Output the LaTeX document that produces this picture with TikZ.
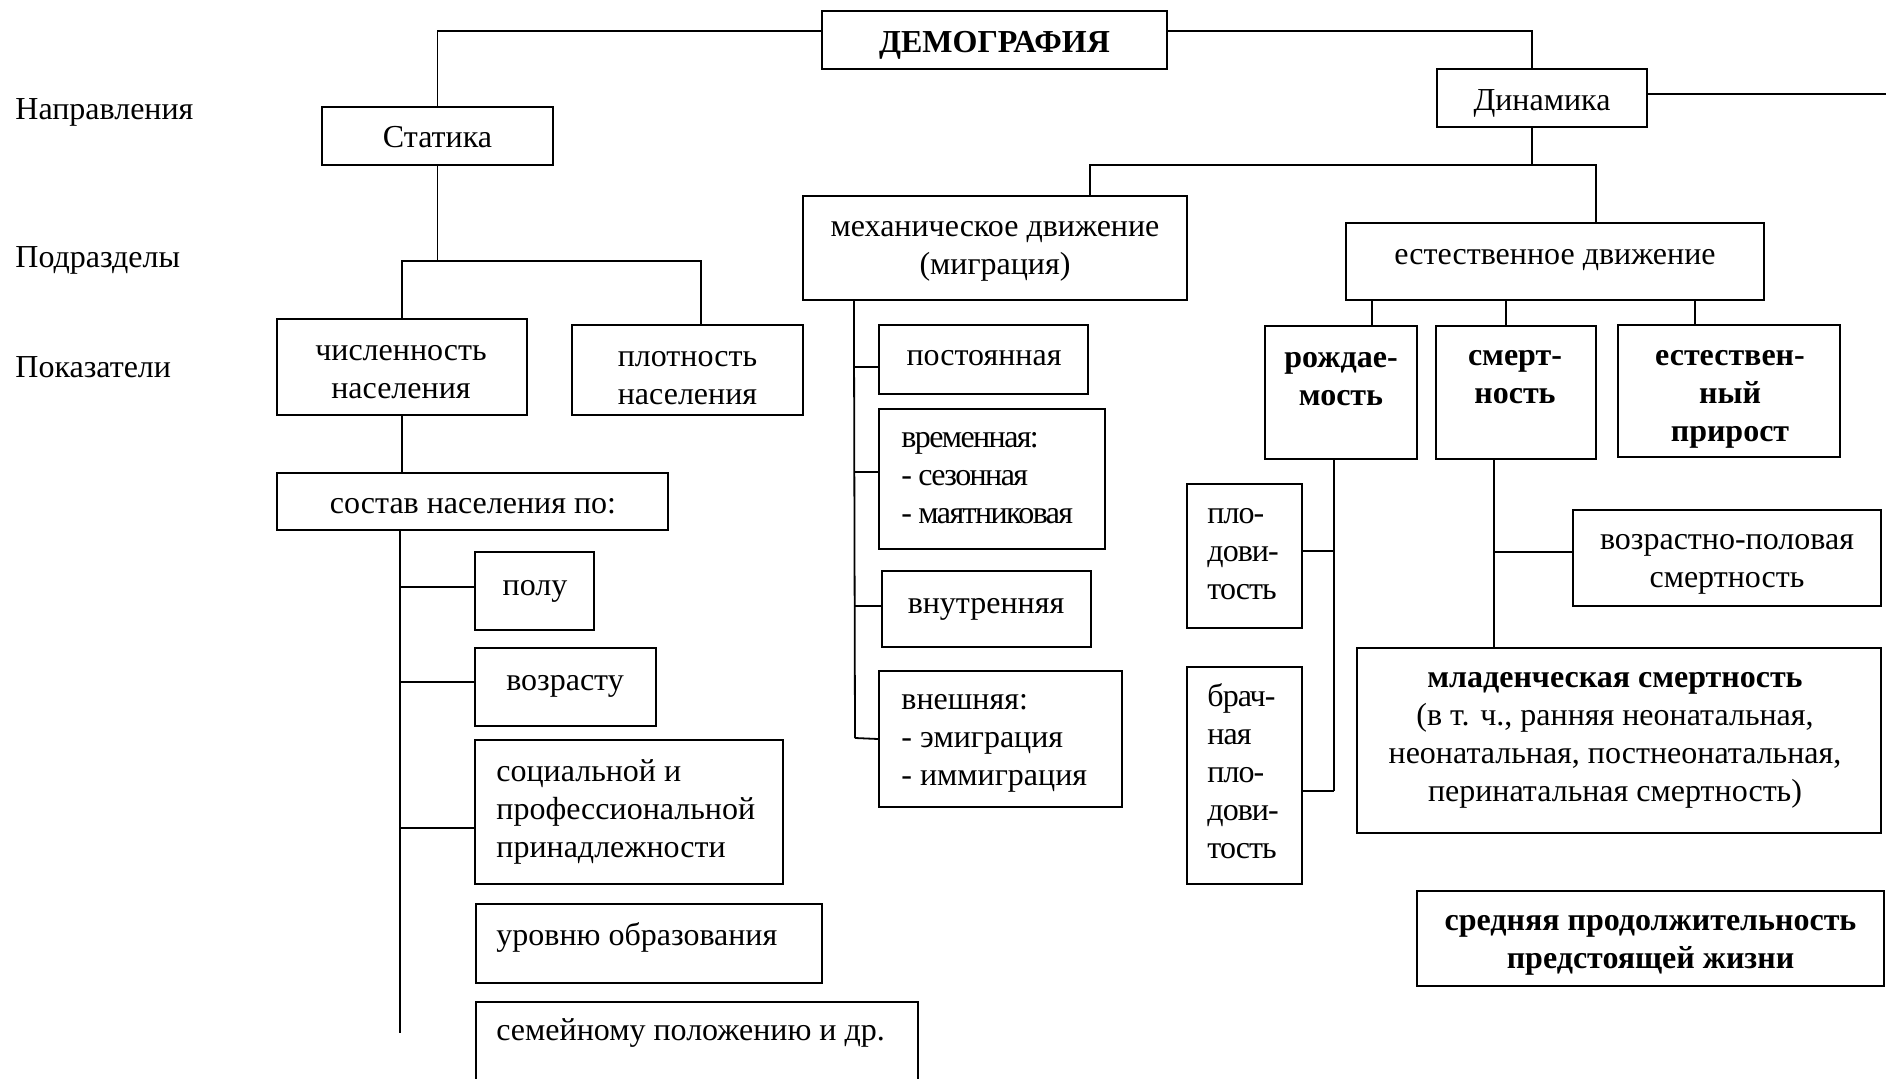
\documentclass[tikz,border=0pt]{standalone}
\usepackage{fontspec}
\setmainfont{Liberation Serif}
\begin{document}
\begin{tikzpicture}[x=0.5pt,y=-0.5pt,
  box/.style 2 args={draw, line width=1.1pt, inner sep=0pt, minimum width=#1*0.5pt, minimum height=#2*0.5pt},
  txt/.style={inner sep=0pt, align=center, font=\fontsize{16}{19}\selectfont},
  ltxt/.style={inner sep=0pt, anchor=west, align=left, font=\fontsize{16}{19}\selectfont},
  btxt/.style={inner sep=0pt, align=center, font=\fontsize{16}{19}\selectfont\bfseries},
  conn/.style={line width=0.9pt}]
\useasboundingbox (0,0) rectangle (1886,1079);
\fill[white] (0,0) rectangle (1886,1079);
\begin{scope}
\clip (0,0) rectangle (1886,1079);
% level labels
\node[ltxt] (lab1) at (15,112) {Направления};
\node[ltxt] (lab2) at (15,260) {Подразделы};
\node[ltxt] (lab3) at (15,367) {Показатели};

% top
\node[box={345}{58}] (demo) at (994.5,40) {};
\node[btxt] (demo-t) at (994.5,45) {ДЕМОГРАФИЯ};
\node[box={231}{58}] (statika) at (437.5,136) {};
\node[txt] (statika-t) at (437.5,137) {Статика};
\node[box={210}{58}] (dinamika) at (1542,98) {};
\node[txt] (dinamika-t) at (1542,103) {Динамика};

% subdivisions
\node[box={384}{104}] (mech) at (995,248) {};
\node[txt] (mech-t) at (995,251) {механическое движение\\(миграция)};
\node[box={418}{77}] (estestv) at (1555,261.5) {};
\node[txt] (estestv-t) at (1555,260) {естественное движение};

% statics
\node[box={250}{96}] (chisl) at (402,367) {};
\node[txt] (chisl-t) at (401,372) {численность\\населения};
\node[box={231}{90}] (plotn) at (687.5,370) {};
\node[txt] (plotn-t) at (687.5,378) {плотность\\населения};
\node[box={391}{57}] (sostav) at (472.5,501.5) {};
\node[txt] (sostav-t) at (473,506.5) {состав населения по:};
\node[box={119}{78}] (polu) at (534.5,591) {};
\node[txt] (polu-t) at (535,591) {полу};
\node[box={181}{78}] (vozrastu) at (565.5,687) {};
\node[txt] (vozrastu-t) at (565,686) {возрасту};
\node[box={308}{144}] (social) at (629,812) {};
\node[ltxt] (social-t) at (496,812) {социальной и\\профессиональной\\принадлежности};
\node[box={346}{79}] (uroven) at (649,943.5) {};
\node[ltxt] (uroven-t) at (496,937) {уровню образования};
\node[box={442}{90}] (semein) at (697,1047) {};
\node[ltxt] (semein-t) at (496,1033) {семейному положению и др.};

% migration
\node[box={209}{69}] (postoyan) at (983.5,359.5) {};
\node[txt] (postoyan-t) at (984,358.5) {постоянная};
\node[box={226}{140}] (vremen) at (992,479) {};
\node[ltxt, font=\fontsize{16}{19}\selectfont\addfontfeature{LetterSpace=-5}] (vremen-t) at (901,478) {временная:\\- сезонная\\- маятниковая};
\node[box={209}{76}] (vnutren) at (986.5,609) {};
\node[txt] (vnutren-t) at (986,609) {внутренняя};
\node[box={243}{136}] (vnesh) at (1000.5,739) {};
\node[ltxt] (vnesh-t) at (901,743) {внешняя:\\- эмиграция\\- иммиграция};

% natural movement
\node[box={152}{133}] (rozhd) at (1341,392.5) {};
\node[btxt] (rozhd-t) at (1341,379.5) {рождае-\\мость};
\node[box={160}{133}] (smert) at (1516,392.5) {};
\node[btxt] (smert-t) at (1515,377.5) {смерт-\\ность};
\node[box={222}{132}] (prirost) at (1729,391) {};
\node[btxt] (prirost-t) at (1730,399) {естествен-\\ный\\прирост};
\node[box={115}{144}] (plodov) at (1244.5,556) {};
\node[ltxt, font=\fontsize{16}{19}\selectfont\addfontfeature{LetterSpace=-3}] (plodov-t) at (1207,554.5) {пло-\\дови-\\тость};
\node[box={115}{217}] (brach) at (1244.5,775.5) {};
\node[ltxt, font=\fontsize{16}{19}\selectfont\addfontfeature{LetterSpace=-3}] (brach-t) at (1207,771) {брач-\\ная\\пло-\\дови-\\тость};
\node[box={308}{96}] (vozrpol) at (1727,558) {};
\node[txt] (vozrpol-t) at (1727,564) {возрастно-половая\\смертность};
\node[box={524}{185}] (mladen) at (1619,740.5) {};
\node[txt] (mladen-t) at (1615,740) {\textbf{младенческая смертность}\\(в т. ч., ранняя неонатальная,\\неонатальная, постнеонатальная,\\перинатальная смертность)};
\node[box={467}{95}] (sredn) at (1650.5,938.5) {};
\node[btxt] (sredn-t) at (1650.5,945) {средняя продолжительность\\предстоящей жизни};

% connectors: top
\coordinate (ytop) at (0,31);
\coordinate (rend) at (1886,94);
\draw[conn] (demo.west |- ytop) -| (statika.north);
\draw[conn] (demo.east |- ytop) -| ([xshift=-5pt]dinamika.north);
\draw[conn] (dinamika.east |- rend) -- (rend);

% statika
\coordinate (sj) at (437.5,261);
\draw[conn] (statika.south) -- (sj);
\draw[conn] (chisl.north) |- (sj) -| ([xshift=6.75pt]plotn.north);
\draw[conn] (chisl.south) -- (chisl.south |- sostav.north);
\coordinate (send) at (400,1033);
\draw[conn] (sostav.south -| send) -- (send);
\draw[conn] ([yshift=2pt]polu.west) -- ([yshift=2pt]polu.west -| send);
\draw[conn] ([yshift=2.5pt]vozrastu.west) -- ([yshift=2.5pt]vozrastu.west -| send);
\draw[conn] ([yshift=-8pt]social.west) -- ([yshift=-8pt]social.west -| send);

% dinamika
\coordinate (dj) at (1532,165);
\draw[conn] ([xshift=-5pt]dinamika.south) -- (dj);
\draw[conn] ([xshift=144pt]mech.north west) |- (dj) -| ([xshift=125.5pt]estestv.north west);

% migration spine
\coordinate (mend) at (855,738);
\draw[conn] ([xshift=26pt]mech.south west) -- (mend);
\draw[conn] ([yshift=-3.75pt]postoyan.west) -- ([yshift=-3.75pt]postoyan.west -| mend);
\draw[conn] ([yshift=3.5pt]vremen.west) -- ([yshift=3.5pt]vremen.west -| mend);
\draw[conn] ([yshift=1.5pt]vnutren.west) -- ([yshift=1.5pt]vnutren.west -| mend);
\draw[conn] (vnesh.west) -- (mend);

% natural movement
\draw[conn] ([xshift=15.5pt]rozhd.north) -- ([xshift=15.5pt]rozhd.north |- estestv.south);
\draw[conn] ([xshift=-5pt]smert.north) -- ([xshift=-5pt]smert.north |- estestv.south);
\draw[conn] ([xshift=-17pt]prirost.north) -- ([xshift=-17pt]prirost.north |- estestv.south);

\coordinate (rend2) at (1334,791);
\draw[conn] ([xshift=-3.5pt]rozhd.south) -- (rend2);
\draw[conn] ([yshift=2.5pt]plodov.east) -- ([yshift=2.5pt]plodov.east -| rend2);
\draw[conn] ([yshift=-7.75pt]brach.east) -- (rend2);

\coordinate (smj) at ([xshift=-11pt]smert.south);
\draw[conn] (smj) -- (smj |- mladen.north);
\draw[conn] ([yshift=3pt]vozrpol.west) -- ([yshift=3pt]vozrpol.west -| smj);
\end{scope}
\end{tikzpicture}
\end{document}
